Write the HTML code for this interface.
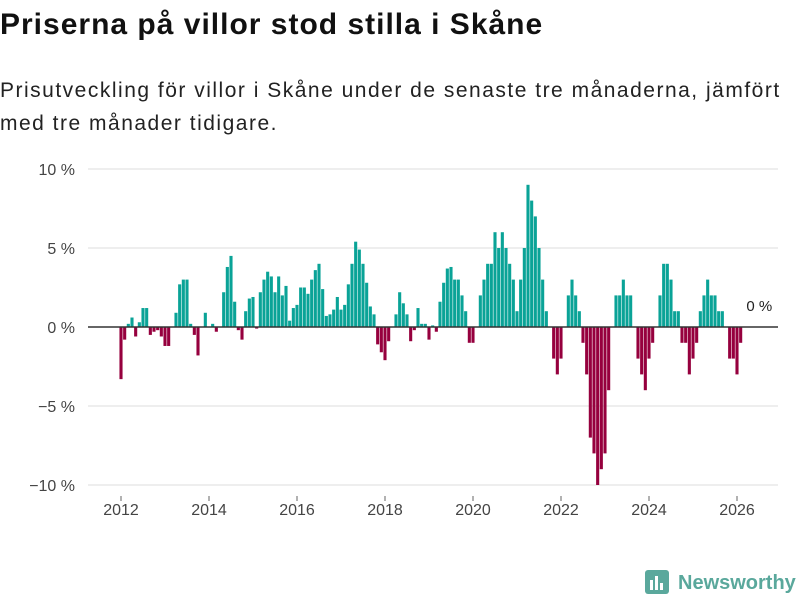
<!DOCTYPE html>
<html><head><meta charset="utf-8">
<style>
body{margin:0;background:#fff;width:800px;height:600px;overflow:hidden;font-family:"Liberation Sans",sans-serif;}
#title{position:absolute;left:0;top:8px;font-size:30px;font-weight:bold;color:#111;letter-spacing:1px;white-space:nowrap;}
#sub{position:absolute;left:0;top:74px;font-size:21px;line-height:33px;color:#222;width:795px;letter-spacing:1.5px;}
svg{position:absolute;left:0;top:0;}
</style></head><body>
<div id="title">Priserna på villor stod stilla i Skåne</div>
<div id="sub">Prisutveckling för villor i Skåne under de senaste tre månaderna, jämfört med tre månader tidigare.</div>
<svg id="chart" width="800" height="600"></svg>
<script>
const startYear = 2012;
const values = [-3.3,-0.8,0.2,0.6,-0.6,0.3,1.2,1.2,-0.5,-0.3,-0.2,-0.6,-1.2,-1.2,0,0.9,2.7,3.0,3.0,0.2,-0.5,-1.8,0,0.9,0,0.2,-0.3,0,2.2,3.8,4.5,1.6,-0.2,-0.8,1.0,1.8,1.9,-0.1,2.2,3.0,3.5,
3.2,2.2,3.2,2.0,2.6,0.4,1.2,1.4,2.5,2.5,2.1,3.0,3.6,4.0,2.4,0.7,0.8,1.1,1.9,1.1,1.4,2.7,4.0,5.4,4.9,4.0,2.8,1.3,0.8,-1.1,-1.6,-2.1,-0.9,0,0.8,2.2,1.5,0.8,-0.9,-0.2,1.2,
0.2,0.2,-0.8,0.1,-0.3,1.6,2.8,3.7,3.8,3.0,3.0,2.0,1.0,-1.0,-1.0,0,2.0,3.0,4.0,4.0,6,5,6,5,4,3,1,3,5,9,8,7,5,3,1,0,
-2,-3,-2,0,2,3,2,1,-1,-3,-7,-8,-10,-9,-8,-4,0,2,2,3,2,2,0,-2,-3,-4,-2,-1,0,2,4,4,3,1,1,-1,-1,-3,-2,-1,1,2,3,2,2,1,1,0,-2,-2,-3,-1,0];
const yTicks = [10,5,0,-5,-10];
const yTickLabels = ["10 %","5 %","0 %","−5 %","−10 %"];
const xTicks = [2012,2014,2016,2018,2020,2022,2024,2026];
const lastLabel = "0 %";

const svg = document.getElementById('chart');
const NS = 'http://www.w3.org/2000/svg';
const x = m => 121 + m * (44/12);
const xYear = yr => x((yr - startYear) * 12);
const y = v => 327 - v * 15.8;
function mk(tag, attrs){const e=document.createElementNS(NS,tag);for(const k in attrs)e.setAttribute(k,attrs[k]);svg.appendChild(e);return e;}

yTicks.forEach((t,i)=>{
  if(t!==0){const g=mk('line',{x1:88,x2:778,y1:y(t),y2:y(t),stroke:'#dcdcdc','stroke-width':1});
  
  }
  const l=mk('text',{x:75,y:y(t)+6,'text-anchor':'end','font-size':16,fill:'#444'});
  l.textContent=yTickLabels[i];
  
  
});
xTicks.forEach(yr=>{
  const tk=mk('line',{x1:xYear(yr),x2:xYear(yr),y1:496,y2:501,stroke:'#666','stroke-width':1});
  
  
  const l=mk('text',{x:xYear(yr),y:515,'text-anchor':'middle','font-size':16,fill:'#444'});
  l.textContent=yr;
  
  
});
values.forEach((v,i)=>{
  if(v===0)return;
  const cx=x(i);
  const r=mk('rect',{x:cx-1.55,width:3.1,y:Math.min(y(v),y(0)),height:Math.abs(y(v)-y(0)),fill:v>0?'#0aa397':'#96003e'});
  
  
});
const z=mk('line',{x1:88,x2:778,y1:y(0),y2:y(0),stroke:'#333','stroke-width':1.5});


const ll=mk('text',{x:x(values.length-1)+2,y:y(0)-16,'font-size':15,fill:'#222'});
ll.textContent=lastLabel;


</script>
<svg width="800" height="600" style="position:absolute;left:0;top:0">
<rect x="645" y="570" width="24" height="24" rx="3" fill="#5aa89c"/>
<rect x="650" y="580" width="3" height="10" fill="#fff"/><rect x="655" y="576" width="3" height="14" fill="#fff"/><rect x="660" y="583" width="3" height="7" fill="#fff"/>
<text x="678" y="589" font-size="20" font-weight="bold" fill="#5aa89c" font-family="Liberation Sans, sans-serif">Newsworthy</text>
</svg>
</body></html>
